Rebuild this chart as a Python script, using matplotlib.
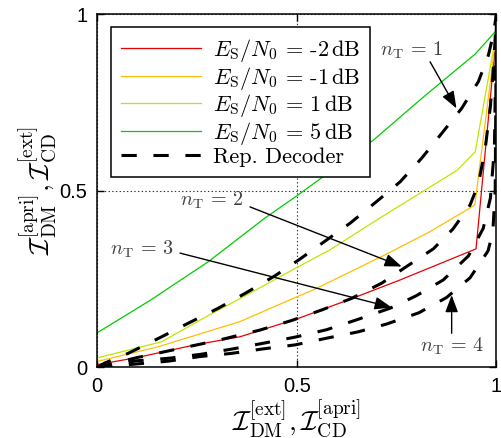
import matplotlib
matplotlib.use("Agg")
import matplotlib.pyplot as plt

# EXIT curves of the demapper for different Es/N0
x_m2 = [0, 0.1, 0.245, 0.358, 0.504, 0.633, 0.759, 0.949, 1.0]
y_m2 = [0.008, 0.028, 0.064, 0.087, 0.139, 0.193, 0.248, 0.336, 0.945]
x_m1 = [0, 0.154, 0.358, 0.5, 0.542, 0.721, 0.834, 0.946, 1.0]
y_m1 = [0.017, 0.059, 0.13, 0.2, 0.22, 0.319, 0.385, 0.46, 0.946]
x_p1 = [0, 0.162, 0.283, 0.358, 0.5, 0.583, 0.709, 0.902, 0.947, 1.0]
y_p1 = [0.027, 0.073, 0.15, 0.195, 0.283, 0.333, 0.424, 0.559, 0.611, 0.948]
x_p5 = [0, 0.133, 0.279, 0.42, 0.5, 0.692, 0.817, 0.947, 1.0]
y_p5 = [0.098, 0.19, 0.30, 0.423, 0.486, 0.644, 0.766, 0.888, 0.955]

# repetition decoder curves, n_T = 1..4
x_n1 = [0, 0.02, 0.078, 0.162, 0.233, 0.304, 0.371, 0.446, 0.508, 0.634, 0.700,
        0.759, 0.813, 0.863, 0.913, 0.955, 0.980, 0.992, 1.0]
y_n1 = [0, 0.013, 0.040, 0.087, 0.128, 0.168, 0.210, 0.260, 0.307, 0.409, 0.470,
        0.526, 0.593, 0.663, 0.734, 0.810, 0.885, 0.942, 1.0]
x_n2 = [0, 0.1, 0.2, 0.3, 0.408, 0.487, 0.563, 0.638, 0.713, 0.775, 0.842, 0.891,
        0.934, 0.955, 0.972, 0.985, 0.994, 1.0]
y_n2 = [0, 0.028, 0.052, 0.076, 0.106, 0.133, 0.163, 0.196, 0.239, 0.286, 0.336, 0.392,
        0.46, 0.52, 0.62, 0.74, 0.87, 1.0]
x_n3 = [0, 0.099, 0.179, 0.258, 0.337, 0.418, 0.496, 0.575, 0.650, 0.734, 0.799,
        0.867, 0.930, 0.967, 0.985, 0.995, 1.0]
y_n3 = [0, 0.019, 0.026, 0.037, 0.052, 0.069, 0.086, 0.107, 0.135, 0.168, 0.203,
        0.248, 0.316, 0.394, 0.48, 0.62, 1.0]
x_n4 = [0, 0.099, 0.179, 0.258, 0.337, 0.418, 0.496, 0.575, 0.654, 0.725, 0.806,
        0.875, 0.934, 0.979, 0.991, 0.997, 1.0]
y_n4 = [0, 0.010, 0.018, 0.031, 0.040, 0.053, 0.064, 0.083, 0.101, 0.123, 0.155,
        0.198, 0.254, 0.330, 0.383, 0.5, 1.0]

snr_labels = ["-2", "-1", "1", "5"]
snr_colors = ["#e60000", "#ffbf00", "#bfe600", "#00cc00"]
nt_labels = ["1", "2", "3", "4"]
# label position, arrow start, arrow tip
nt_text = [(0.787, 0.90), (0.288, 0.474), (0.113, 0.336), (0.889, 0.061)]
nt_from = [(0.834, 0.866), (0.383, 0.455), (0.208, 0.324), (0.888, 0.097)]
nt_to = [(0.90, 0.734), (0.763, 0.286), (0.738, 0.17), (0.888, 0.205)]

plt.rcParams["mathtext.fontset"] = "cm"
plt.rcParams["lines.scale_dashes"] = False

fig = plt.figure(figsize=(5.01, 4.38), dpi=100)
ax = fig.add_axes([0.1936, 0.161, 0.7972, 0.8059])

snr_x = [x_m2, x_m1, x_p1, x_p5]
snr_y = [y_m2, y_m1, y_p1, y_p5]
for xs, ys, lab, c in zip(snr_x, snr_y, snr_labels, snr_colors):
    ax.plot(xs, ys, color=c, linewidth=0.9,
            label=r"$E_{\mathrm{S}}/N_0$ = " + lab + r"$\,$dB")

dash = (0, (11, 12))
rep_x = [x_n1, x_n2, x_n3, x_n4]
rep_y = [y_n1, y_n2, y_n3, y_n4]
for i, (xs, ys) in enumerate(zip(rep_x, rep_y)):
    ax.plot(xs, ys, color="k", linewidth=2.2, linestyle=dash,
            label="Rep. Decoder" if i == 0 else None)

for lab, tp, fp, tip in zip(nt_labels, nt_text, nt_from, nt_to):
    ax.annotate("", xy=tip, xytext=fp,
                arrowprops=dict(arrowstyle="-|>,head_length=0.8,head_width=0.3",
                                color="k", lw=1.0, mutation_scale=13,
                                shrinkA=0, shrinkB=0))
    ax.text(tp[0], tp[1], r"$n_{\mathrm{T}}\,{=}\,%s$" % lab, fontsize=14.5,
            color="0.25", ha="center", va="center")

ax.set_xlim(0, 1)
ax.set_ylim(0, 1)
ax.set_xticks([0, 0.5, 1])
ax.set_yticks([0, 0.5, 1])
ax.set_xticklabels(["0", "0.5", "1"])
ax.set_yticklabels(["0", "0.5", "1"])
ax.tick_params(direction="in", top=True, right=True, length=5, width=1,
               labelsize=14.5, pad=7)
for t in ax.get_xticklabels() + ax.get_yticklabels():
    t.set_family("Liberation Sans")
ax.grid(True, linestyle=":", color="0.2", linewidth=0.8)
for s in ax.spines.values():
    s.set_linewidth(1.1)

ax.set_xlabel(r"$\mathcal{I}_{\mathrm{DM}}^{[\mathrm{ext}]},\mathcal{I}_{\mathrm{CD}}^{[\mathrm{apri}]}$",
              fontsize=20, labelpad=1)
ax.set_ylabel(r"$\mathcal{I}_{\mathrm{DM}}^{[\mathrm{apri}]},\mathcal{I}_{\mathrm{CD}}^{[\mathrm{ext}]}$",
              fontsize=20, labelpad=1)

leg = ax.legend(loc="upper left", bbox_to_anchor=(0.034, 0.964), borderaxespad=0,
                prop={"family": "cmr10", "size": 16}, handlelength=3.6,
                handletextpad=0.55, labelspacing=0.02, borderpad=0.45,
                fancybox=False, framealpha=1, edgecolor="k")
leg.get_frame().set_linewidth(1.1)

fig.savefig("out.png", dpi=100)
